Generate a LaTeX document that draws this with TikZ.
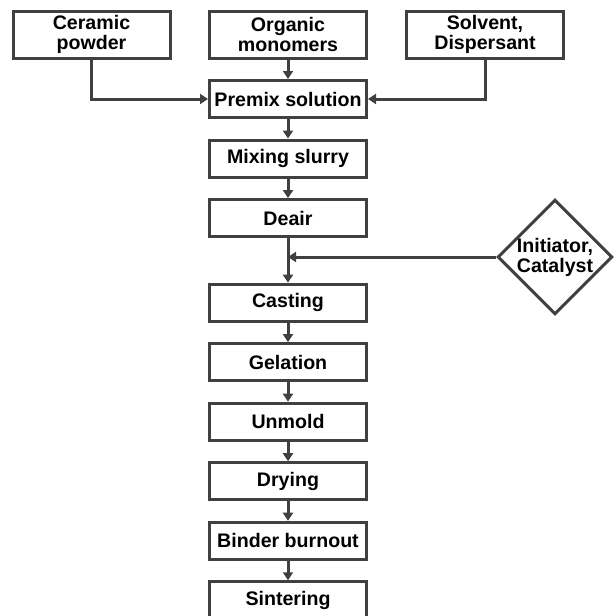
\documentclass[tikz,border=0pt]{standalone}
\usepackage{fontspec}
\setmainfont{Liberation Sans}
\usetikzlibrary{positioning,shapes.geometric,arrows.meta}
\definecolor{linegray}{RGB}{64,64,64}

\begin{document}
\begin{tikzpicture}[x=0.75pt,y=-0.75pt,
    box/.style={draw=linegray, line width=2.25pt, fill=white, minimum width=117.75pt,
        minimum height=27.75pt, inner sep=1pt, align=center,
        font=\fontsize{14.7}{15}\selectfont\bfseries},
    tallbox/.style={box, minimum height=35.25pt},
    decision/.style={draw=linegray, line width=2.25pt, diamond, aspect=1, inner sep=0pt,
        minimum width=86pt, minimum height=86pt, align=center,
        font=\fontsize{14.7}{15}\selectfont\bfseries},
    flow/.style={draw=linegray, line width=2.25pt, -{Triangle[length=6pt,width=7.5pt]}},
    node distance=14.65pt]
    \useasboundingbox (0,0) rectangle (616,615);
    % inputs
    \node[tallbox] (ceramic) at (91.5,34.5) {Ceramic\\powder};
    \node[tallbox] (organic) at (288,34.5) {Organic\\monomers};
    \node[tallbox] (solvent) at (485,34.5) {Solvent,\\Dispersant};
    % main process
    \node[box] (premix) at (288,99) {Premix solution};
    \node[box, below=of premix] (mixing) {Mixing slurry};
    \node[box, below=of mixing] (deair) {Deair};
    \node[box, below=33.4pt of deair] (casting) {Casting};
    \node[box, below=of casting] (gelation) {Gelation};
    \node[box, below=of gelation] (unmold) {Unmold};
    \node[box, below=of unmold] (drying) {Drying};
    \node[box, below=of drying] (burnout) {Binder burnout};
    \node[box, below=of burnout] (sintering) {Sintering};
    \node[decision] (initiator) at (555,257) {Initiator,\\Catalyst};

    \draw[flow] (ceramic.south) |- (premix.west);
    \draw[flow] (organic) -- (premix);
    \draw[flow] (solvent.south) |- (premix.east);
    \draw[flow] (premix) -- (mixing);
    \draw[flow] (mixing) -- (deair);
    \draw[flow] (deair) -- (casting);
    \draw[flow] (initiator.west) -- (initiator.west -| deair.south);
    \draw[flow] (casting) -- (gelation);
    \draw[flow] (gelation) -- (unmold);
    \draw[flow] (unmold) -- (drying);
    \draw[flow] (drying) -- (burnout);
    \draw[flow] (burnout) -- (sintering);
\end{tikzpicture}
\end{document}
